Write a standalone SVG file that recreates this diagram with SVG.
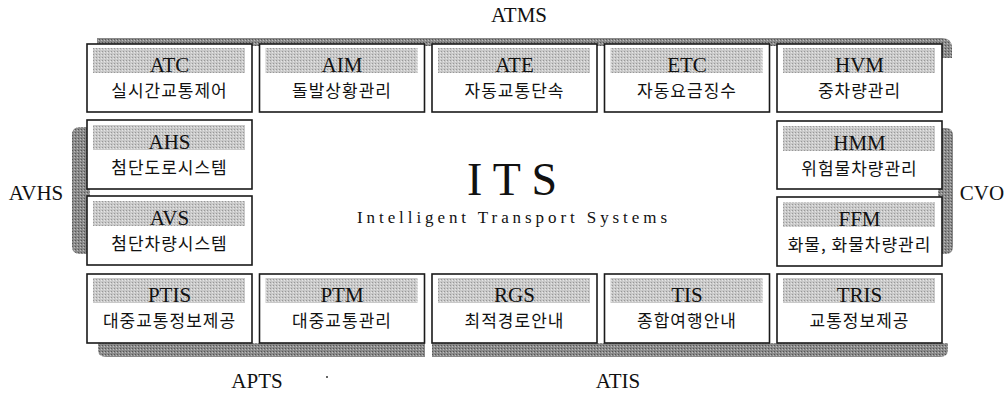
<svg xmlns="http://www.w3.org/2000/svg" width="1008" height="396" viewBox="0 0 1008 396">
<defs>
<pattern id="ht" width="3" height="3" patternUnits="userSpaceOnUse">
<rect width="3" height="3" fill="#c9c9c9"/>
<rect width="1" height="1" fill="#989898"/>
<rect x="2" y="1" width="1" height="1" fill="#e6e6e6"/>
</pattern>
<pattern id="band" width="3" height="3" patternUnits="userSpaceOnUse">
<rect width="3" height="3" fill="#8a8a8a"/>
<rect width="1" height="1" fill="#555555"/>
<rect x="2" y="1" width="1" height="1" fill="#bdbdbd"/>
</pattern>
<style>
.box{fill:#ffffff;stroke:#1a1a1a;stroke-width:1.6}
.hl{fill:url(#ht)}
.band{fill:url(#band)}
.en{font-family:"Liberation Serif",serif;font-size:21px;fill:#111;text-anchor:middle}
.ko{font-family:"Noto Sans CJK KR",sans-serif;font-size:17px;fill:#111;text-anchor:middle;letter-spacing:1px}
.grp{font-family:"Liberation Serif",serif;font-size:21px;fill:#111;text-anchor:middle}
</style>
</defs>
<rect width="1008" height="396" fill="#ffffff"/>

<g id="bands">
<path class="band" d="M97,38 H942 Q952,38 952,48 V58 H942 V46 H97 Z"/>
<path class="band" d="M90,127 V254 H80 Q72,254 72,246 V135 Q72,127 80,127 Z"/>
<path class="band" d="M938,128 H946 Q953,128 953,136 V246 Q953,254 946,254 H938 Z"/>
<path class="band" d="M98,343 H425 V357 H106 Q98,357 98,350 Z"/>
<path class="band" d="M432,343 H948 V350 Q948,357 940,357 H432 Z"/>
</g>

<g id="labels">
<text class="grp" x="36" y="200">AVHS</text>
<text class="grp" x="519" y="22">ATMS</text>
<text class="grp" x="982" y="200">CVO</text>
<text class="grp" x="257" y="388">APTS</text>
<text class="grp" x="618" y="388">ATIS</text>
<circle cx="327" cy="377" r="1" fill="#333"/>
</g>

<g id="center">
<text x="467" y="195" font-family="Liberation Serif, serif" font-size="46" fill="#111" textLength="90" lengthAdjust="spacing">ITS</text>
<text x="357" y="223" font-family="Liberation Serif, serif" font-size="17" fill="#111" textLength="310" lengthAdjust="spacing">Intelligent Transport Systems</text>
</g>

<g id="atc"><rect class="box" x="87" y="44" width="165" height="68"/><rect class="hl" x="93" y="48" width="152" height="25"/><text class="en" x="169.5" y="72">ATC</text><text class="ko" x="169.5" y="97">실시간교통제어</text></g>
<g id="aim"><rect class="box" x="259.5" y="44" width="165" height="68"/><rect class="hl" x="265.5" y="48" width="152" height="25"/><text class="en" x="342" y="72">AIM</text><text class="ko" x="342" y="97">돌발상황관리</text></g>
<g id="ate"><rect class="box" x="432" y="44" width="165" height="68"/><rect class="hl" x="438" y="48" width="152" height="25"/><text class="en" x="514.5" y="72">ATE</text><text class="ko" x="514.5" y="97">자동교통단속</text></g>
<g id="etc"><rect class="box" x="604.5" y="44" width="165" height="68"/><rect class="hl" x="610.5" y="48" width="152" height="25"/><text class="en" x="687" y="72">ETC</text><text class="ko" x="687" y="97">자동요금징수</text></g>
<g id="hvm"><rect class="box" x="777" y="44" width="165" height="68"/><rect class="hl" x="783" y="48" width="152" height="25"/><text class="en" x="859.5" y="72">HVM</text><text class="ko" x="859.5" y="97">중차량관리</text></g>

<g id="ahs"><rect class="box" x="87" y="120" width="165" height="69"/><rect class="hl" x="93" y="125" width="152" height="25"/><text class="en" x="169.5" y="149">AHS</text><text class="ko" x="169.5" y="174">첨단도로시스템</text></g>
<g id="avs"><rect class="box" x="87" y="196" width="165" height="69"/><rect class="hl" x="93" y="201" width="152" height="25"/><text class="en" x="169.5" y="225">AVS</text><text class="ko" x="169.5" y="250">첨단차량시스템</text></g>
<g id="hmm"><rect class="box" x="777" y="121" width="165" height="68"/><rect class="hl" x="783" y="126" width="152" height="25"/><text class="en" x="859.5" y="150">HMM</text><text class="ko" x="859.5" y="175">위험물차량관리</text></g>
<g id="ffm"><rect class="box" x="777" y="197" width="165" height="69"/><rect class="hl" x="783" y="202" width="152" height="25"/><text class="en" x="859.5" y="226">FFM</text><text class="ko" x="859.5" y="251" letter-spacing="0">화물, 화물차량관리</text></g>

<g id="ptis"><rect class="box" x="87" y="274" width="165" height="69"/><rect class="hl" x="93" y="278" width="152" height="25"/><text class="en" x="169.5" y="302">PTIS</text><text class="ko" x="169.5" y="327" letter-spacing="0.5">대중교통정보제공</text></g>
<g id="ptm"><rect class="box" x="259.5" y="274" width="165" height="69"/><rect class="hl" x="265.5" y="278" width="152" height="25"/><text class="en" x="342" y="302">PTM</text><text class="ko" x="342" y="327">대중교통관리</text></g>
<g id="rgs"><rect class="box" x="432" y="274" width="165" height="69"/><rect class="hl" x="438" y="278" width="152" height="25"/><text class="en" x="514.5" y="302">RGS</text><text class="ko" x="514.5" y="327">최적경로안내</text></g>
<g id="tis"><rect class="box" x="604.5" y="274" width="165" height="69"/><rect class="hl" x="610.5" y="278" width="152" height="25"/><text class="en" x="687" y="302">TIS</text><text class="ko" x="687" y="327">종합여행안내</text></g>
<g id="tris"><rect class="box" x="777" y="274" width="165" height="69"/><rect class="hl" x="783" y="278" width="152" height="25"/><text class="en" x="859.5" y="302">TRIS</text><text class="ko" x="859.5" y="327">교통정보제공</text></g>
</svg>
